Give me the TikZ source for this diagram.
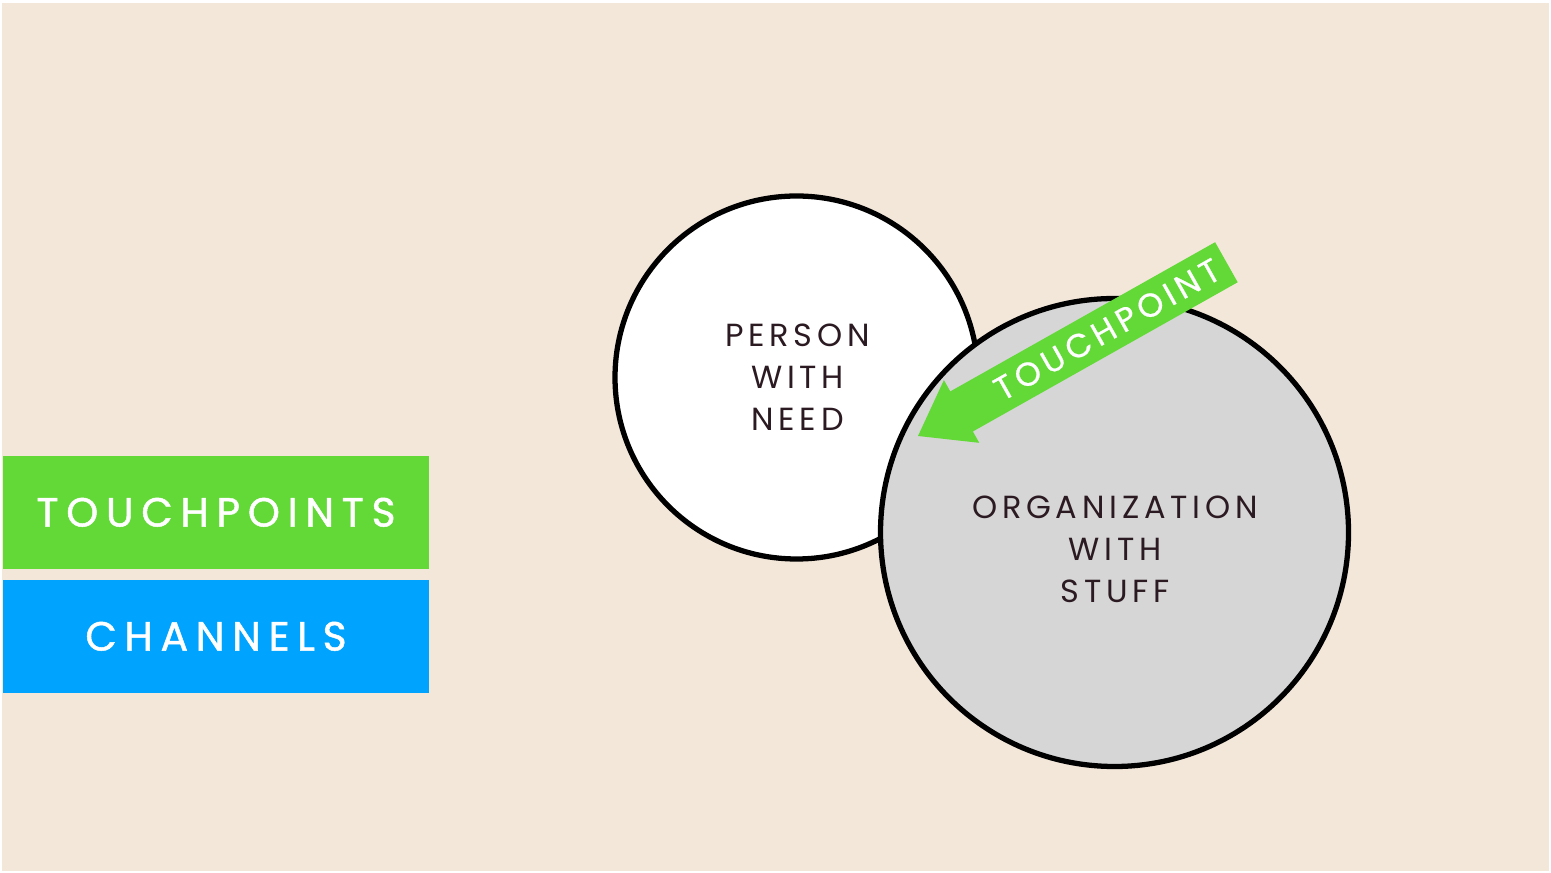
\documentclass[tikz,border=0pt]{standalone}
\usepackage{fontspec}
\setmainfont{Poppins}
\definecolor{paper}{HTML}{F3E7DA}
\definecolor{tpgreen}{HTML}{62D937}
\definecolor{chblue}{HTML}{00A4FF}
\definecolor{orggray}{HTML}{D6D6D6}
\definecolor{ink}{HTML}{2B1A21}
\tikzset{
  labelbox/.style={minimum width=4.26cm, minimum height=1.127cm, inner sep=0pt,
    text=white, font=\fontsize{11.6}{13}\selectfont\addfontfeatures{LetterSpace=19,FakeBold=1.2}},
  bubble/.style={circle, draw=black, line width=1.5pt, inner sep=0pt},
  bubbletext/.style={align=center, text=ink, inner sep=0pt,
    font=\fontsize{9.1}{11.95}\selectfont\addfontfeatures{LetterSpace=15}},
  arrowtext/.style={text=white, inner sep=0pt,
    font=\fontsize{9.4}{11}\selectfont\addfontfeatures{LetterSpace=15,FakeBold=0.6}}
}
\begin{document}
\begin{tikzpicture}
  \useasboundingbox (0,0) rectangle (15.51,-8.73);
  % page background
  \fill[white] (0,0) rectangle (15.51,-8.73);
  \fill[paper] (0.02,-0.03) rectangle (15.49,-8.71);

  % legend boxes
  \node[labelbox, fill=tpgreen] (touchpoints) at (2.16,-5.123) {TOUCHPOINTS};
  \node[labelbox, fill=chblue] (channels) at (2.16,-6.363) {CHANNELS};

  % the two parties
  \node[bubble, fill=white, minimum size=3.63cm] (person) at (7.965,-3.775) {};
  \node[bubble, fill=orggray, minimum size=4.68cm] (org) at (11.145,-5.325) {};
  \node[bubbletext] (persontext) at (7.975,-3.77) {PERSON\\WITH\\NEED};
  \node[bubbletext] (orgtext) at (11.15,-5.49) {ORGANIZATION\\WITH\\STUFF};

  % touchpoint arrow, tip at the organisation's edge
  \begin{scope}[shift={(9.18,-4.36)}, rotate=29.4]
    \fill[tpgreen] (0,0) -- (0.5,0.36) -- (0.5,0.23) -- (3.54,0.23)
      -- (3.54,-0.23) -- (0.5,-0.23) -- (0.5,-0.36) -- cycle;
    \node[arrowtext, rotate=29.4] (tplabel) at (2.17,0) {TOUCHPOINT};
  \end{scope}
\end{tikzpicture}
\end{document}
